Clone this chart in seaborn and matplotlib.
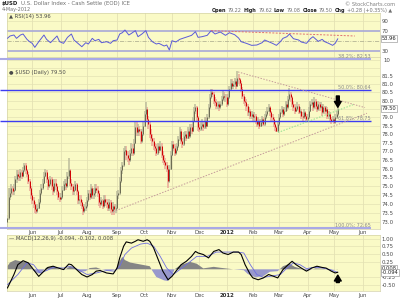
import numpy as np
import matplotlib
matplotlib.use("Agg")
import matplotlib.pyplot as plt
import matplotlib.transforms as mtrans
from matplotlib.ticker import FixedLocator, NullLocator, FuncFormatter
import seaborn as sns

sns.set_style("white")
plt.rcParams["font.family"] = ["DejaVu Sans"]

# ---------------- data (trading-day index 0 = 4-May-2011 ... 253 = 4-May-2012) -------------
first_open = 73.00
close = [
    73.20, 74.40, 74.60, 74.90, 74.70, 74.80, 75.40, 75.70, 75.60, 75.50, 75.80, 75.60, 75.90, 76.20, 75.90, 75.70, 75.30, 74.90, 74.50,
    74.20, 74.00, 73.70, 73.60, 73.80, 74.10, 74.60, 74.90, 75.20, 75.60, 75.80, 75.40, 75.00, 75.10, 75.40, 75.00, 74.70, 75.20, 75.00, 74.70, 74.40, 74.30,
    74.40, 74.80, 75.10, 75.20, 75.00, 75.60, 75.90, 75.20, 75.00, 74.70, 74.80, 75.10, 74.70, 74.20, 74.30, 74.10, 73.90, 73.60, 73.80, 73.90,
    74.20, 74.60, 74.40, 74.90, 74.50, 74.60, 74.90, 74.80, 74.60, 74.10, 74.00, 74.20, 73.90, 74.30, 74.10, 74.00, 73.80, 74.10, 73.70, 73.60, 73.90, 73.70, 73.80,
    74.50, 74.60, 75.30, 75.90, 76.20, 77.00, 77.10, 76.80, 76.60, 76.50, 76.90, 77.20, 76.90, 77.50, 78.40, 78.10, 78.30, 78.20, 77.60, 78.00, 78.50,
    79.20, 79.50, 78.90, 78.60, 78.00, 77.80, 77.60, 77.30, 77.20, 76.90, 77.30, 77.10, 77.30, 76.80, 76.50, 76.40, 76.20, 76.00, 75.30, 76.00, 76.80,
    77.40, 77.20, 76.90, 77.10, 77.30, 77.70, 78.20, 77.60, 77.40, 77.90, 78.00, 77.80, 78.20, 77.90, 78.40, 78.20, 78.80, 79.40, 79.60, 79.00, 78.40,
    78.30, 78.50, 78.60, 78.40, 78.80, 78.50, 79.00, 79.60, 80.20, 80.50, 80.40, 80.00, 79.90, 79.70, 79.80, 79.60, 79.80, 80.10, 80.30, 80.20, 80.20,
    79.80, 80.20, 80.70, 81.10, 80.90, 81.00, 81.20, 80.90, 81.40, 81.30, 81.10, 80.70, 80.30, 80.00, 79.90, 79.70, 79.30, 79.40, 79.10, 79.20,
    79.00, 79.10, 78.80, 78.60, 78.80, 78.50, 78.70, 78.90, 78.60, 79.00, 79.20, 79.40, 79.60, 79.30, 79.00, 78.90, 78.60, 78.40, 78.20, 78.60,
    79.00, 79.30, 79.50, 79.20, 79.40, 79.80, 79.60, 80.10, 80.40, 80.20, 79.80, 79.60, 79.40, 79.50, 79.70, 79.30, 79.40, 79.10, 79.00, 79.30, 79.10, 78.90,
    79.00, 79.40, 79.80, 79.90, 79.60, 80.00, 79.70, 79.50, 79.80, 79.60, 79.70, 79.30, 79.60, 79.40, 79.50, 79.10, 79.20, 78.90, 78.80, 78.90,
    78.70, 79.00, 79.22, 79.50,
]
high = [
    73.40, 74.90, 74.90, 75.10, 75.00, 75.10, 75.60, 75.90, 75.90, 75.80, 76.00, 75.90, 76.10, 76.30, 76.30, 76.00, 75.80, 75.40, 75.00,
    74.60, 74.40, 74.10, 73.90, 74.00, 74.30, 74.80, 75.10, 75.40, 75.80, 76.00, 75.90, 75.50, 75.30, 75.60, 75.50, 75.10, 75.40, 75.40, 75.10, 74.80, 74.60,
    74.60, 75.00, 75.30, 75.40, 75.40, 75.80, 76.60, 76.00, 75.40, 75.10, 75.00, 75.30, 75.20, 74.80, 74.50, 74.50, 74.20, 74.00, 74.00, 74.10,
    74.40, 74.80, 74.80, 75.10, 75.00, 74.90, 75.10, 75.10, 75.00, 74.70, 74.30, 74.40, 74.30, 74.50, 74.50, 74.30, 74.10, 74.30, 74.20, 73.90, 74.10, 74.00, 74.00,
    74.70, 74.80, 75.50, 76.10, 76.40, 77.20, 77.30, 77.30, 77.00, 76.80, 77.10, 77.50, 77.40, 77.70, 78.70, 78.80, 78.60, 78.50, 78.30, 78.30, 78.70,
    79.40, 79.90, 79.60, 79.10, 78.70, 78.30, 78.00, 77.80, 77.50, 77.40, 77.50, 77.50, 77.60, 77.50, 77.00, 76.80, 76.60, 76.40, 76.10, 76.20, 77.00,
    77.60, 77.60, 77.40, 77.30, 77.50, 77.90, 78.40, 78.30, 77.80, 78.10, 78.20, 78.20, 78.40, 78.30, 78.60, 78.60, 79.00, 79.60, 79.80, 79.70, 79.10,
    78.60, 78.80, 78.90, 78.80, 79.00, 79.00, 79.20, 79.80, 80.40, 80.70, 80.70, 80.50, 80.20, 80.10, 80.00, 79.90, 80.00, 80.30, 80.60, 80.50, 80.40,
    80.40, 80.40, 80.90, 81.30, 81.30, 81.20, 81.40, 81.30, 81.78, 81.60, 81.40, 81.20, 80.80, 80.40, 80.20, 80.10, 79.80, 79.60, 79.50, 79.40,
    79.30, 79.30, 79.20, 79.00, 79.00, 78.90, 78.90, 79.10, 79.00, 79.20, 79.40, 79.60, 79.80, 79.70, 79.40, 79.20, 79.00, 78.70, 78.50, 78.80,
    79.20, 79.50, 79.70, 79.60, 79.60, 80.00, 80.00, 80.30, 80.74, 80.50, 80.30, 80.00, 79.80, 79.70, 79.90, 79.80, 79.60, 79.50, 79.30, 79.50, 79.40, 79.20,
    79.20, 79.60, 80.00, 80.10, 80.00, 80.20, 80.10, 79.80, 80.00, 79.90, 79.90, 79.80, 79.80, 79.70, 79.70, 79.60, 79.40, 79.30, 79.00, 79.10,
    79.00, 79.20, 79.40, 79.62,
]
low = [
    72.65, 73.10, 74.20, 74.40, 74.50, 74.50, 74.70, 75.20, 75.40, 75.30, 75.30, 75.40, 75.50, 75.80, 75.70, 75.50, 75.10, 74.70, 74.30,
    74.00, 73.80, 73.50, 73.45, 73.50, 73.70, 74.00, 74.50, 74.80, 75.10, 75.50, 75.20, 74.80, 74.90, 75.00, 74.80, 74.50, 74.60, 74.80, 74.50, 74.20, 74.10,
    74.20, 74.30, 74.70, 74.90, 74.80, 74.90, 75.40, 75.00, 74.80, 74.50, 74.50, 74.70, 74.50, 74.00, 74.00, 73.90, 73.70, 73.40, 73.50, 73.60,
    73.80, 74.10, 74.20, 74.30, 74.30, 74.30, 74.40, 74.60, 74.40, 73.90, 73.80, 73.90, 73.70, 73.80, 73.90, 73.80, 73.60, 73.60, 73.50, 73.40, 73.50, 73.40, 73.50,
    73.70, 74.30, 74.50, 75.20, 75.70, 76.10, 76.80, 76.50, 76.40, 76.20, 76.40, 76.70, 76.70, 76.80, 77.40, 77.90, 77.90, 77.90, 77.40, 77.50, 77.90,
    78.40, 79.00, 78.70, 78.30, 77.80, 77.60, 77.30, 77.10, 77.00, 76.70, 76.80, 76.90, 77.00, 76.60, 76.30, 76.20, 76.00, 75.80, 74.90, 75.20, 75.90,
    76.70, 77.00, 76.70, 76.80, 77.00, 77.20, 77.60, 77.40, 77.20, 77.30, 77.70, 77.60, 77.70, 77.70, 77.80, 78.00, 78.10, 78.70, 79.20, 78.80, 78.20,
    78.10, 78.20, 78.40, 78.20, 78.30, 78.30, 78.40, 78.90, 79.50, 80.10, 80.20, 79.80, 79.70, 79.50, 79.50, 79.40, 79.50, 79.70, 80.00, 80.00, 79.90,
    79.60, 79.70, 80.10, 80.60, 80.70, 80.70, 80.80, 80.70, 80.80, 81.00, 80.90, 80.50, 80.10, 79.80, 79.70, 79.40, 79.10, 79.10, 78.90, 78.90,
    78.80, 78.80, 78.60, 78.40, 78.50, 78.30, 78.40, 78.60, 78.50, 78.50, 78.90, 79.10, 79.30, 79.10, 78.80, 78.70, 78.40, 78.20, 78.10, 78.10,
    78.50, 78.90, 79.20, 79.00, 79.10, 79.30, 79.40, 79.50, 80.00, 79.90, 79.60, 79.40, 79.20, 79.30, 79.40, 79.20, 79.20, 78.90, 78.80, 78.90, 78.90, 78.70,
    78.70, 78.90, 79.30, 79.70, 79.40, 79.50, 79.50, 79.30, 79.40, 79.40, 79.50, 79.10, 79.20, 79.20, 79.30, 78.90, 78.90, 78.70, 78.60, 78.70,
    78.60, 78.60, 78.90, 79.08,
]

month_pos = [19, 41, 61, 84, 105, 126, 147, 168, 188, 208, 230, 250, 272]
month_labels = ["Jun", "Jul", "Aug", "Sep", "Oct", "Nov", "Dec", "2012", "Feb", "Mar", "Apr", "May", "Jun"]

rsi_x = [0, 2, 5, 7, 10, 12, 15, 17, 19, 21, 24, 26, 28, 30, 33, 35, 38, 40, 43, 46, 49, 51, 54, 57, 60, 62, 65,
         67, 70, 72, 76, 79, 81, 84, 86, 88, 90, 93, 95, 98, 100, 103, 106, 108, 111, 114, 116, 120, 122, 124, 126,
         129, 132, 135, 138, 141, 144, 146, 149, 153, 156, 159, 163, 167, 170, 174, 177, 179, 183, 187, 191, 195,
         197, 200, 203, 206, 209, 211, 214, 216, 219, 223, 225, 229, 232, 234, 238, 241, 243, 246, 249, 251, 253]
rsi_v = [54.7, 59.4, 61.4, 54.7, 61.4, 63.4, 52.7, 48.0, 44.7, 36.7, 48.0, 54.7, 61.4, 52.7, 46.0, 51.4, 59.4,
         48.0, 44.7, 56.7, 63.4, 51.4, 44.7, 38.0, 46.0, 43.4, 54.7, 50.0, 52.7, 46.0, 48.0, 44.7, 50.0, 51.4, 63.4,
         66.0, 71.4, 61.4, 64.7, 70.1, 58.0, 63.4, 70.1, 56.7, 48.0, 43.4, 44.7, 39.4, 41.4, 31.4, 50.0, 47.4, 52.7,
         55.4, 58.0, 60.7, 68.0, 56.7, 58.0, 60.7, 70.1, 63.4, 67.4, 60.7, 66.0, 62.0, 55.4, 48.0, 44.7, 40.7, 41.4,
         46.0, 51.4, 48.0, 44.7, 40.7, 48.0, 54.7, 58.0, 63.4, 54.0, 51.4, 47.4, 44.7, 54.0, 58.0, 48.7, 52.7, 48.0,
         44.7, 40.7, 44.7, 53.96]
rsi_div_x = [156, 266]
rsi_div_v = [70.1, 59.4]

macd_x = [0, 5, 8, 12, 16, 20, 24, 28, 31, 35, 39, 43, 47, 49, 53, 57, 61, 65, 68, 71, 76, 81, 84, 86, 89, 91, 95,
          98, 100, 104, 107, 109, 112, 116, 119, 123, 126, 130, 133, 137, 141, 144, 146, 150, 154, 158, 162, 165,
          169, 173, 177, 179, 182, 186, 188, 192, 196, 200, 204, 207, 211, 215, 218, 221, 225, 229, 233, 237, 241,
          244, 248, 251, 253]
macd_v = [-0.61, -0.17, 0.15, 0.28, 0.21, -0.01, -0.23, -0.06, 0.06, 0.10, 0.04, -0.01, 0.17, 0.15, -0.01, -0.17,
          -0.25, -0.17, -0.06, -0.04, -0.12, -0.15, 0.04, 0.37, 0.75, 0.89, 0.85, 0.91, 0.96, 0.91, 0.96, 0.91, 0.69,
          0.26, -0.06, -0.34, -0.23, -0.01, 0.15, 0.26, 0.42, 0.58, 0.53, 0.48, 0.37, 0.58, 0.64, 0.53, 0.48, 0.56,
          0.56, 0.48, 0.15, -0.17, -0.28, -0.34, -0.28, -0.17, -0.23, -0.28, -0.01, 0.15, 0.26, 0.15, 0.04, -0.06,
          0.04, 0.10, 0.06, 0.04, -0.06, -0.12, -0.094]
sig_x = [0, 8, 15, 20, 25, 30, 35, 43, 48, 54, 61, 68, 76, 82, 86, 90, 95, 102, 107, 112, 117, 122, 127, 132, 137,
         145, 153, 160, 168, 176, 181, 186, 191, 196, 201, 209, 214, 219, 224, 229, 234, 239, 247, 253]
sig_v = [-0.50, -0.17, 0.21, 0.15, -0.12, -0.04, 0.06, 0.04, 0.10, -0.01, -0.17, -0.12, -0.04, -0.06, 0.10, 0.48,
         0.69, 0.82, 0.85, 0.75, 0.42, 0.04, -0.17, -0.01, 0.15, 0.42, 0.42, 0.56, 0.56, 0.56, 0.53, 0.15, -0.17,
         -0.26, -0.23, -0.17, 0.04, 0.21, 0.15, 0.02, 0.06, 0.06, -0.01, -0.102]
hist_x = [0, 2, 6, 10, 15, 18, 20, 24, 27, 30, 35, 40, 44, 48, 51, 56, 60, 63, 68, 72, 79, 83, 85, 88, 90, 94, 99,
          104, 109, 111, 114, 120, 123, 126, 128, 133, 140, 145, 150, 158, 163, 173, 181, 184, 190, 196, 201, 207,
          211, 216, 220, 225, 230, 236, 241, 247, 253]
hist_v = [0.10, 0.22, 0.30, 0.26, 0.24, 0.08, -0.05, -0.14, -0.06, 0.06, 0.08, 0.00, -0.02, 0.10, 0.05, -0.08,
          -0.06, 0.04, 0.06, 0.00, -0.05, 0.00, 0.20, 0.40, 0.30, 0.22, 0.18, 0.14, 0.10, -0.05, -0.25, -0.36, -0.38,
          -0.20, 0.00, 0.15, 0.24, 0.18, 0.03, 0.08, 0.05, 0.00, -0.03, -0.15, -0.26, -0.22, -0.08, -0.06, 0.10,
          0.18, 0.08, 0.02, -0.05, 0.03, 0.02, -0.02, 0.008]

fib_levels = [82.53, 80.64, 78.75, 72.65]
fib_labels = ["38.2%: 82.53", "50.0%: 80.64", "61.8%: 78.75", "100.0%: 72.65"]
fib_span = [-5.5, 278.3]

upper_tl_x, upper_tl_y = [176.6, 273.8], [81.75, 79.58]
lower_tl_x, lower_tl_y = [81.0, 275.3], [73.57, 79.24]
green_tl_x, green_tl_y = [207.2, 264.6], [78.10, 79.75]

price_ticks = [73.0, 73.5, 74.0, 74.5, 75.0, 75.5, 76.0, 76.5, 77.0, 77.5, 78.0, 78.5, 79.0,
               80.0, 80.5, 81.0, 81.5]
price_grid = [73.0, 73.5, 74.0, 74.5, 75.0, 75.5, 76.0, 76.5, 77.0, 77.5, 78.0, 78.5, 79.0, 79.5,
              80.0, 80.5, 81.0, 81.5, 82.0, 82.5]
rsi_ticks = [90, 70, 30]
macd_ticks = [1.0, 0.75, 0.5, 0.25, -0.25, -0.5]

header_items = [("Open", True), ("79.22", False), ("High", True), ("79.62", False), ("Low", True),
                ("79.08", False), ("Close", True), ("79.50", False), ("Chg", True),
                ("+0.28 (+0.35%) \u25b2", False)]

# ---------------- figure ----------------
W, H = 400, 299
BG = "#fafac6"
GRID = "#e4e2b4"
TXT = "#4a4a4a"

fig = plt.figure(figsize=(W / 100, H / 100), dpi=100)
fig.patch.set_facecolor("white")
renderer = fig.canvas.get_renderer()


def rect(x0, y0, x1, y1):
    return [x0 / W, 1 - y1 / H, (x1 - x0) / W, (y1 - y0) / H]


ax_r = fig.add_axes(rect(7, 13, 380, 57))
ax_p = fig.add_axes(rect(7, 57, 380, 229))
ax_m = fig.add_axes(rect(7, 235, 380, 291))
XL = (-0.3, 285.3)

for ax in (ax_r, ax_p, ax_m):
    ax.set_facecolor(BG)
    ax.yaxis.tick_right()
    ax.tick_params(axis="both", length=0, labelsize=3.9, labelcolor=TXT, pad=1.2)
    for s in ax.spines.values():
        s.set_color("#d4d2a8")
        s.set_linewidth(0.5)
    for xm in month_pos:
        ax.axvline(xm, color=GRID, lw=0.6, zorder=0.5)


def value_box(ax, y, s):
    t = mtrans.blended_transform_factory(ax.transAxes, ax.transData)
    ax.text(1.004, y, s, transform=t, ha="left", va="center", fontsize=3.7, color="#202020",
            bbox=dict(boxstyle="square,pad=0.18", fc="white", ec="#8a8a8a", lw=0.4),
            clip_on=False, zorder=10)


# ---- price panel ----
idx = np.arange(len(close))
c = np.array(close)
o = np.r_[first_open, c[:-1]]
hi = np.maximum(np.array(high), np.maximum(o, c))
lo = np.minimum(np.array(low), np.minimum(o, c))
down = c < o
ax_p.set_yscale("log")
for g in price_grid:
    ax_p.axhline(g, color=GRID, lw=0.5, zorder=0.5)
ax_p.vlines(idx[down], lo[down], hi[down], color="#eaa898", lw=1.1, zorder=2)
ax_p.vlines(idx[~down], lo[~down], hi[~down], color="#bcbc9c", lw=1.1, zorder=2)
ax_p.vlines(idx[down], c[down], o[down], color="#d00000", lw=0.7, zorder=3)
ax_p.vlines(idx[~down], o[~down], c[~down], color="#6a6a52", lw=0.7, zorder=3)

fib_colors = ["#a9a9e6", "#3d3df2", "#3d3df2", "#a9a9e6"]
fib_widths = [1.5, 1.0, 1.0, 1.5]
for lvl, lab, col, lw in zip(fib_levels, fib_labels, fib_colors, fib_widths):
    ax_p.plot(fib_span, [lvl, lvl], color=col, lw=lw, clip_on=False, zorder=4, solid_capstyle="butt")
    ax_p.text(fib_span[1], lvl * 1.0004, lab, ha="right", va="bottom", fontsize=3.5, color="#8a8a8a", zorder=5)

ax_p.plot(upper_tl_x, upper_tl_y, color="#c49a9a", lw=0.7, ls=(0, (1.5, 1.5)), zorder=4)
ax_p.plot(lower_tl_x, lower_tl_y, color="#c49a9a", lw=0.7, ls=(0, (1.5, 1.5)), zorder=4)
ax_p.plot(green_tl_x, green_tl_y, color="#8ee08e", lw=0.7, ls=(0, (1.5, 1.5)), zorder=4)

ax_p.annotate("", xy=(253, 79.60), xytext=(253, 80.28),
              arrowprops=dict(arrowstyle="simple,head_width=0.7,head_length=0.6,tail_width=0.3",
                              color="black", mutation_scale=7, shrinkA=0, shrinkB=0), zorder=6)

ax_p.set_ylim(72.615, 82.676)
ax_p.yaxis.set_major_locator(FixedLocator(price_ticks))
ax_p.yaxis.set_minor_locator(NullLocator())
ax_p.yaxis.set_major_formatter(FuncFormatter(lambda v, p: f"{v:.1f}"))
value_box(ax_p, close[-1], f"{close[-1]:.2f}")

# ---- RSI panel ----
ax_r.axhline(90, color=GRID, lw=0.5, zorder=0.5)
ax_r.axhline(70, color="#a8a8d8", lw=1.2, zorder=1)
ax_r.axhline(30, color="#a8a8d8", lw=1.2, zorder=1)
ax_r.axhline(50, color="#b4b494", lw=0.6, ls=(0, (5, 1.5, 1, 1.5)), zorder=1)
sns.lineplot(x=rsi_x, y=rsi_v, ax=ax_r, color="#5a5ad8", lw=0.7, zorder=3)
ax_r.plot(rsi_div_x, rsi_div_v, color="#e07070", lw=0.7, ls=(0, (2, 1.5)), zorder=4)
ax_r.set_ylim(17.4, 105.4)
ax_r.set_yticks(rsi_ticks)
ax_r.set_yticklabels([str(v) for v in rsi_ticks])
value_box(ax_r, 53.96, "53.96")
t_r = mtrans.blended_transform_factory(ax_r.transAxes, ax_r.transData)
ax_r.text(1.0 + 3.4 / 373, 10, "10", transform=t_r, ha="left", va="center", fontsize=3.9,
          color=TXT, clip_on=False)

# ---- MACD panel ----
for g in macd_ticks:
    ax_m.axhline(g, color=GRID, lw=0.5, zorder=0.5)
hx = np.array(hist_x, dtype=float)
hv = np.array(hist_v)
ax_m.fill_between(hx, hv, 0, where=hv >= 0, interpolate=True, color="#858585", lw=0, zorder=2)
ax_m.fill_between(hx, hv, 0, where=hv <= 0, interpolate=True, color="#9898cc", lw=0, zorder=2)
sns.lineplot(x=sig_x, y=sig_v, ax=ax_m, color="#6e6ee0", lw=0.6, zorder=3)
sns.lineplot(x=macd_x, y=macd_v, ax=ax_m, color="black", lw=0.8, zorder=4)
ax_m.annotate("", xy=(253, -0.19), xytext=(253, -0.43),
              arrowprops=dict(arrowstyle="simple,head_width=0.7,head_length=0.6,tail_width=0.3",
                              color="black", mutation_scale=7, shrinkA=0, shrinkB=0), zorder=6)
ax_m.set_ylim(-0.705, 1.114)
ax_m.set_yticks(macd_ticks)
ax_m.set_yticklabels([f"{v:.2f}" for v in macd_ticks])
value_box(ax_m, 0.035, "0.008")
value_box(ax_m, -0.11, "-0.094")

# ---- shared x ----
for ax in (ax_r, ax_p, ax_m):
    ax.set_xlim(*XL)
    ax.set_xticks(month_pos)
    ax.set_xlabel("")
    ax.set_ylabel("")
ax_r.set_xticklabels([])
for ax in (ax_p, ax_m):
    ax.set_xticklabels(month_labels)
    for lab in ax.get_xticklabels():
        if lab.get_text() == "2012":
            lab.set_fontweight("bold")
            lab.set_color("#303030")
ax_p.tick_params(axis="x", pad=0.8)
ax_m.tick_params(axis="x", pad=1.5)


# ---- texts ----
def fx(px):
    return px / W


def fy(py):
    return 1 - py / H


def flow(items, x_start, y_px, size, gap=2.0, right_edge=None):
    objs = []
    for s, b in items:
        t = fig.text(0, fy(y_px), s, fontsize=size, fontweight="bold" if b else "normal",
                     color="#202020" if b else "#707070", va="center")
        objs.append(t)
    widths = [t.get_window_extent(renderer).width for t in objs]
    total = sum(widths) + gap * (len(objs) - 1)
    x = x_start if right_edge is None else right_edge - total
    for t, w in zip(objs, widths):
        t.set_x(fx(x))
        x += w + gap


flow([("$USD", True), ("U.S. Dollar Index - Cash Settle (EOD) ICE", False)], 2, 3.5, 3.9, gap=2.5)
fig.text(fx(2), fy(10), "4-May-2012", fontsize=3.5, color="#707070", va="center")
fig.text(fx(395), fy(4), "\u00a9 StockCharts.com", fontsize=3.7, color="#808080", va="center", ha="right")
flow(header_items, 0, 10.5, 3.5, gap=1.8, right_edge=392)

fig.text(fx(9), fy(16.5), "\u25b2 RSI(14) 53.96", fontsize=3.8, color=TXT, va="center")
fig.text(fx(9), fy(72), "\u25cf $USD (Daily) 79.50", fontsize=3.8, color=TXT, va="center")
fig.text(fx(9), fy(238.5), "\u2014 MACD(12,26,9) -0.094, -0.102, 0.008", fontsize=3.8, color=TXT, va="center")

fig.savefig("out.png", dpi=100, facecolor="white")
